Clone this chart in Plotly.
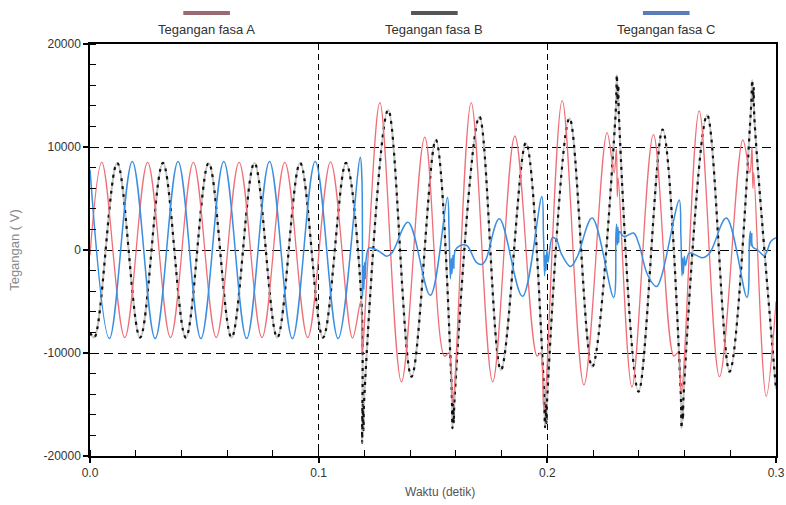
import plotly.graph_objects as go

# ---------------- data ----------------
# Phase A (red)
a_t = [0.0, 0.0052, 0.0152, 0.0252, 0.0352, 0.0452, 0.0552, 0.0652, 0.0752, 0.0852, 0.0952, 0.1052, 0.1148,
       0.1184, 0.1190, 0.1195, 0.1218,
       0.1268, 0.1362, 0.1464, 0.1550, 0.1570, 0.1586,
       0.1667, 0.1761, 0.1858, 0.1955, 0.1970, 0.1985,
       0.2065, 0.2160, 0.2261, 0.2292, 0.2302, 0.2306, 0.2310,
       0.2370, 0.2464, 0.2553, 0.2570, 0.2586,
       0.2664, 0.2753, 0.2855, 0.2886, 0.2895, 0.2899, 0.2903,
       0.2957, 0.3000]
a_v = [-500, 8500, -8500, 8500, -8500, 8500, -8500, 8500, -8500, 8500, -8500, 8550, -8550,
       -5000, -10000, -9000, 0,
       14300, -12800, 10950, -10300, -10000, -14800,
       14300, -12800, 11070, -10300, -10000, -15500,
       14500, -13100, 11400, 7500, 9800, 5200, 7000,
       -13300, 11200, -10300, -10000, -13800,
       13500, -12300, 10700, 7500, 10000, 6000, 7500,
       -14200, -5000]

# Phase B (black dashed)
b_t = [0.0, 0.0019, 0.0119, 0.0219, 0.0319, 0.0419, 0.0519, 0.0619, 0.0719, 0.0819, 0.0919, 0.1019, 0.1119,
       0.1186, 0.1190, 0.1193, 0.1196, 0.1199,
       0.1304, 0.1406, 0.1512,
       0.1580, 0.1585, 0.1588, 0.1591, 0.1594,
       0.1703, 0.1797, 0.1906,
       0.1983, 0.1990, 0.1993, 0.1996, 0.1999,
       0.2097, 0.2196,
       0.2298, 0.2304, 0.2307, 0.2310, 0.2313,
       0.2399, 0.2504,
       0.2582, 0.2587, 0.2590, 0.2593, 0.2596,
       0.2699, 0.2797,
       0.2890, 0.2896, 0.2899, 0.2902, 0.2905,
       0.3000]
b_v = [-8000, -8500, 8450, -8500, 8450, -8500, 8450, -8500, 8450, -8500, 8450, -8500, 8450,
       -4500, -18700, -15000, -17500, -14500,
       13600, -12300, 10700,
       -12500, -17300, -15000, -16800, -14500,
       12950, -11650, 10400,
       -12500, -17200, -15000, -16800, -14500,
       12800, -11350,
       13000, 17000, 14500, 16000, 13000,
       -13750, 11700,
       -13000, -17300, -15000, -16500, -14000,
       13100, -11800,
       13500, 16500, 14500, 15800, 13000,
       -13500]

# Phase C (blue)
c_t = [0.0, 0.0085, 0.0185, 0.0285, 0.0385, 0.0485, 0.0585, 0.0685, 0.0785, 0.0885, 0.0985, 0.1085, 0.1182,
       0.1189, 0.1192, 0.1195, 0.1198, 0.1201, 0.1204, 0.1208, 0.1220, 0.1245, 0.1275, 0.1297, 0.1320,
       0.1391, 0.1488, 0.1563, 0.1570, 0.1576, 0.1580, 0.1583, 0.1587, 0.1591, 0.1598,
       0.1630, 0.1650, 0.1690, 0.1712, 0.1730,
       0.1790, 0.1891, 0.1976, 0.1983, 0.1988, 0.1991, 0.1994, 0.1998, 0.2003,
       0.2022, 0.2040, 0.2060, 0.2101, 0.2130,
       0.2196, 0.2290, 0.2300, 0.2303, 0.2306, 0.2309, 0.2312, 0.2316, 0.2335, 0.2377, 0.2400,
       0.2440, 0.2478, 0.2500,
       0.2577, 0.2584, 0.2589, 0.2592, 0.2595, 0.2599, 0.2604, 0.2620, 0.2650, 0.2680, 0.2710,
       0.2783, 0.2873, 0.2884, 0.2888, 0.2891, 0.2894, 0.2898, 0.2920, 0.2949, 0.2978, 0.3000]
c_v = [7800, -8600, 8600, -8600, 8600, -8600, 8600, -8600, 8600, -8600, 8600, -8600, 9000,
       7000, -4500, -1500, -3800, -1200, -2800, -800, 200, 100, -300, -600, -300,
       2700, -4400, 5100, 2000, -2800, -800, -2300, -500, -1800, 0,
       500, 400, -1200, -1400, -1000,
       3030, -4500, 5200, 1500, -2500, -500, -2000, 0, -1200,
       1200, 1000, -300, -1600, -700,
       3100, -4600, 1500, 2500, 500, 2200, 700, 1800, 1300, 1650, 600,
       -2500, -3550, -2500,
       4850, 1500, -2500, -800, -2300, -600, -1500, -300, -500, -750, -300,
       3100, -4600, 1000, 1800, 400, 1600, 300, 0, -550, 850, 1200]

series_names = ["Tegangan fasa A", "Tegangan fasa B", "Tegangan fasa C"]
x_ticks = [0.0, 0.1, 0.2, 0.3]
y_ticks = [-20000, -10000, 0, 10000, 20000]

# ---------------- styles ----------------
RED = "#ef6f78"
BLUE = "#3b8fe0"
FONT = "Liberation Sans"

fig = go.Figure()
fig.add_trace(go.Scatter(x=b_t, y=b_v, mode="lines", line=dict(color="#c4c4c4", width=2.0, shape="spline", smoothing=1.0),
                         showlegend=False, hoverinfo="skip"))
fig.add_trace(go.Scatter(x=b_t, y=b_v, mode="lines", name=series_names[1],
                         line=dict(color="#111111", width=2.2, dash="3px,5px", shape="spline", smoothing=1.0),
                         showlegend=False))
fig.add_trace(go.Scatter(x=a_t, y=a_v, mode="lines", name=series_names[0],
                         line=dict(color=RED, width=1.3, shape="spline", smoothing=1.0), showlegend=False))
fig.add_trace(go.Scatter(x=c_t, y=c_v, mode="lines", name=series_names[2],
                         line=dict(color=BLUE, width=1.5, shape="spline", smoothing=1.0), showlegend=False))

axis_common = dict(showline=True, linecolor="black", linewidth=1.5, mirror=True,
                   ticks="outside", ticklen=5, tickwidth=1.5, tickcolor="black",
                   showgrid=True, gridcolor="black", gridwidth=1.4, zeroline=False,
                   ticklabeloverflow="allow", automargin=False,
                   tickfont=dict(family=FONT, size=12, color="#333333"))

fig.update_xaxes(range=[0, 0.3], tickvals=x_ticks, ticktext=[f"{v:.1f}" for v in x_ticks],
                 griddash="6px,4px",
                 minor=dict(dtick=0.02, tick0=0, ticks="inside", ticklen=6, tickwidth=1.3, tickcolor="black", showgrid=False),
                 **axis_common)
fig.update_yaxes(range=[-20000, 20000], tickvals=y_ticks, ticktext=[str(v) for v in y_ticks],
                 griddash="9px,5px",
                 minor=dict(dtick=2000, tick0=0, ticks="inside", ticklen=6, tickwidth=1.3, tickcolor="black", showgrid=False),
                 **axis_common)

# custom legend: sample bar above text
legend_x = [0.170, 0.502, 0.840]
legend_colors = ["#9a6a72", "#555555", "#5a7cb8"]
shapes = []
annotations = []
for name, cx, col in zip(series_names, legend_x, legend_colors):
    shapes.append(dict(type="line", xref="paper", yref="paper", x0=cx - 0.034, x1=cx + 0.034,
                       y0=1.075, y1=1.075, line=dict(color=col, width=4)))
    annotations.append(dict(text=name, xref="paper", yref="paper", x=cx, y=1.034, showarrow=False,
                            font=dict(family=FONT, size=13, color="#333333"), xanchor="center", yanchor="middle"))

annotations.append(dict(text="Waktu (detik)", xref="paper", yref="paper", x=0.510, y=-0.0874, showarrow=False,
                        font=dict(family=FONT, size=12, color="#555555"), xanchor="center", yanchor="middle"))
annotations.append(dict(text="Tegangan ( V)", xref="paper", yref="paper", x=-0.111, y=0.5, showarrow=False,
                        textangle=-90, font=dict(family=FONT, size=13, color="#888888"),
                        xanchor="center", yanchor="middle"))

fig.update_layout(width=786, height=505, margin=dict(l=90, r=10, t=44, b=49),
                  paper_bgcolor="white", plot_bgcolor="white",
                  shapes=shapes, annotations=annotations, showlegend=False)

fig.write_html("out.html")
